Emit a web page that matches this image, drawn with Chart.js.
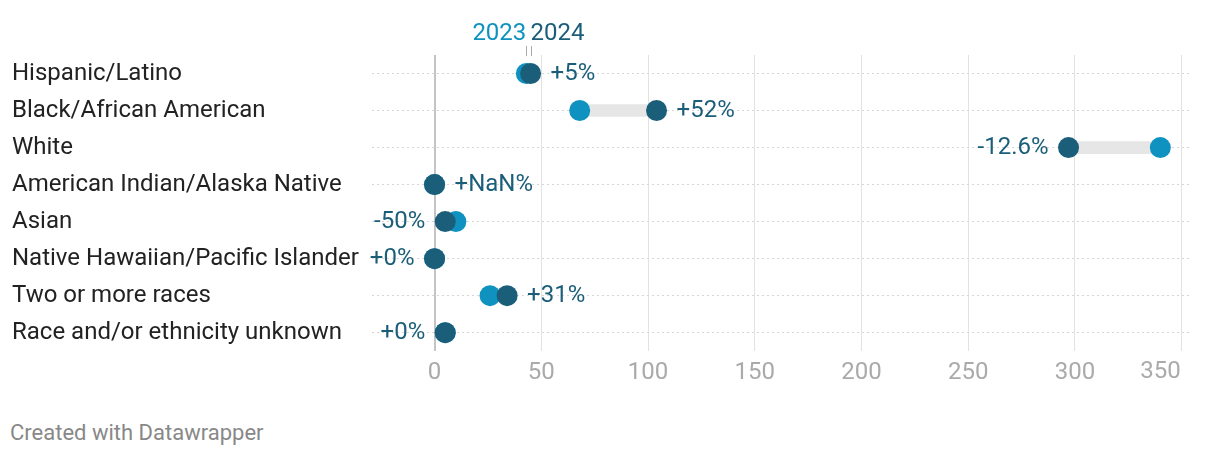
<!DOCTYPE html>
<html>
<head>
<meta charset="utf-8">
<title>Race and ethnicity, 2023 vs 2024</title>
<style>
  body { margin: 0; background: #fff; font-family: Roboto, sans-serif; }
  #wrap { position: relative; width: 1220px; height: 400px; }
  #credit { position: absolute; left: 10px; top: 420px; font-size: 22px; color: #888; }
</style>
</head>
<body>
<div id="wrap"><canvas id="chart"></canvas></div>
<div id="credit">Created with Datawrapper</div>

<script src="https://cdn.jsdelivr.net/npm/chart.js@4.4.0/dist/chart.umd.min.js"></script>
<script>
var categories = [
  'Hispanic/Latino', 'Black/African American', 'White',
  'American Indian/Alaska Native', 'Asian',
  'Native Hawaiian/Pacific Islander', 'Two or more races',
  'Race and/or ethnicity unknown'
];
var values2023 = [43, 68, 340, 0, 10, 0, 26, 5];
var values2024 = [45, 104, 297, 0, 5, 0, 34, 5];
var changeLabels = ['+5%', '+52%', '-12.6%', '+NaN%', '-50%', '+0%', '+31%', '+0%'];
var labelSide = ['right', 'right', 'left', 'right', 'left', 'left', 'right', 'left'];
var xTicks = [0, 50, 100, 150, 200, 250, 300, 350];

var light = '#0f92c0';
var dark = '#1b5e7a';

var ranges = values2023.map(function (v, i) {
  return [Math.min(v, values2024[i]), Math.max(v, values2024[i])];
});

var annotate = {
  id: 'annotate',
  afterDatasetsDraw: function (chart) {
    var ctx = chart.ctx;
    var x = chart.scales.x, y = chart.scales.y;
    ctx.save();
    ctx.font = '24px Roboto';
    ctx.textBaseline = 'middle';
    ctx.fillStyle = dark;
    for (var i = 0; i < categories.length; i++) {
      var py = y.getPixelForValue(i);
      var lo = x.getPixelForValue(ranges[i][0]);
      var hi = x.getPixelForValue(ranges[i][1]);
      if (labelSide[i] === 'right') {
        ctx.textAlign = 'left';
        ctx.fillText(changeLabels[i], hi + 20, py);
      } else {
        ctx.textAlign = 'right';
        ctx.fillText(changeLabels[i], lo - 20, py);
      }
    }
    // last axis label sits left of its grid line
    var last = xTicks[xTicks.length - 1];
    ctx.fillStyle = '#aaaaaa';
    ctx.textAlign = 'right';
    ctx.fillText(String(last), x.getPixelForValue(last) - 1, chart.chartArea.bottom + 21);

    // header over first row
    var p23 = x.getPixelForValue(values2023[0]);
    var p24 = x.getPixelForValue(values2024[0]);
    var hy = 34;
    ctx.textAlign = 'right';
    ctx.fillStyle = light;
    ctx.fillText('2023', p23, hy);
    ctx.textAlign = 'left';
    ctx.fillStyle = dark;
    ctx.fillText('2024', p24, hy);
    ctx.strokeStyle = '#aaa';
    ctx.lineWidth = 1;
    ctx.beginPath();
    ctx.moveTo(Math.round(p23) + 0.5, 46); ctx.lineTo(Math.round(p23) + 0.5, 56);
    ctx.moveTo(Math.round(p24) + 0.5, 46); ctx.lineTo(Math.round(p24) + 0.5, 56);
    ctx.stroke();
    ctx.restore();
  }
};

new Chart(document.getElementById('chart'), {
  type: 'bar',
  data: {
    labels: categories,
    datasets: [
      {
        type: 'line', label: '2024', data: values2024, order: 1,
        showLine: false, pointRadius: 10.5, pointHoverRadius: 10.5,
        pointBackgroundColor: dark, pointBorderWidth: 0, indexAxis: 'y'
      },
      {
        type: 'line', label: '2023', data: values2023, order: 2,
        showLine: false, pointRadius: 10.5, pointHoverRadius: 10.5,
        pointBackgroundColor: light, pointBorderWidth: 0, indexAxis: 'y'
      },
      {
        label: 'range', data: ranges, order: 3,
        backgroundColor: '#e6e6e6', barThickness: 12, borderSkipped: false
      }
    ]
  },
  options: {
    indexAxis: 'y',
    responsive: true,
    maintainAspectRatio: false,
    animation: false,
    layout: { padding: { left: 12, right: 30, top: 55, bottom: 6 } },
    plugins: { legend: { display: false }, tooltip: { enabled: false } },
    scales: {
      x: {
        type: 'linear', min: -29.3, max: 353.9,
        afterBuildTicks: function (s) {
          s.ticks = xTicks.map(function (v) { return { value: v }; });
        },
        grid: {
          drawTicks: false,
          color: function (c) { return c.tick && c.tick.value === 0 ? '#c4c4c4' : '#e2e2e2'; },
          lineWidth: function (c) { return c.tick && c.tick.value === 0 ? 2 : 1; }
        },
        border: { display: false },
        ticks: {
          color: '#aaaaaa', font: { family: 'Roboto', size: 24 }, padding: 7,
          maxRotation: 0, autoSkip: false,
          callback: function (v) { return v === xTicks[xTicks.length - 1] ? '' : v; }
        }
      },
      y: {
        type: 'category',
        grid: { offset: false, drawTicks: false, color: '#d6d6d6' },
        border: { display: false, dash: [2, 3] },
        afterFit: function (s) { s.width = 360; },
        ticks: {
          crossAlign: 'far', padding: 0,
          color: '#222', font: { family: 'Roboto', size: 24 }
        }
      }
    }
  },
  plugins: [annotate]
});
</script>
</body>
</html>
